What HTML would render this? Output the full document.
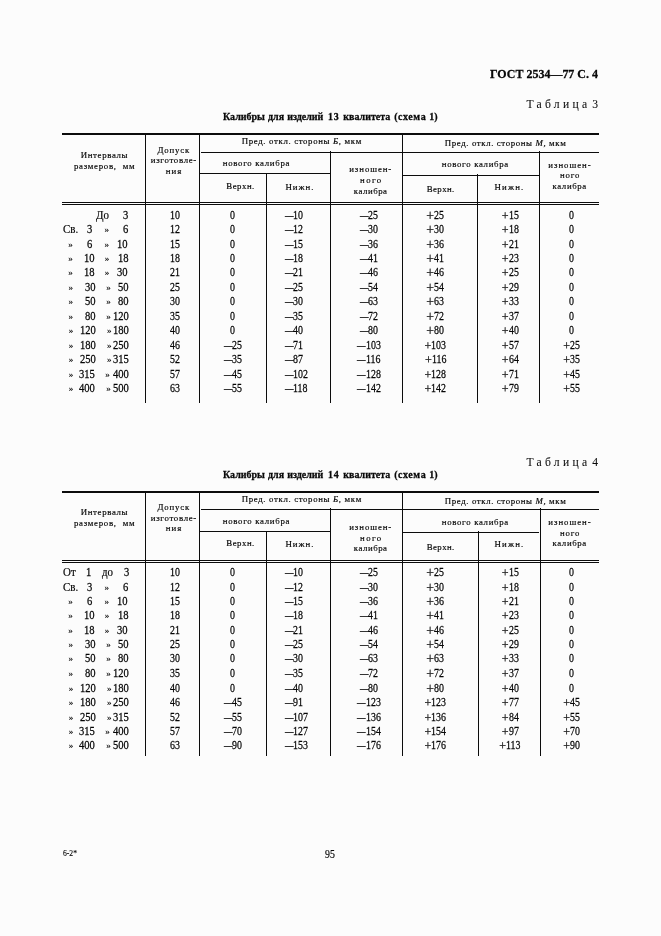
<!DOCTYPE html>
<html lang="ru">
<head>
<meta charset="utf-8">
<title>ГОСТ 2534—77 С. 4</title>
<style>
html,body{margin:0;padding:0;background:#fcfcfc;}
body{width:661px;height:936px;overflow:hidden;position:relative;
 font-family:"Liberation Serif","DejaVu Serif",serif;color:#0a0a0a;}
.page{position:absolute;left:0;top:0;width:661px;height:936px;overflow:hidden;}
/* text runs: absolutely placed on the measured baselines of the scan */
.t{position:absolute;white-space:pre;line-height:20px;height:20px;transform-origin:0 50%;-webkit-text-stroke:0.017em #000;}
.h{-webkit-text-stroke:0.16px #000;color:#000;}
.q{-webkit-text-stroke:0.14px #000;color:#000;}
.s{-webkit-text-stroke:0.06px #000;}
.b{font-weight:bold;-webkit-text-stroke:0.28px #000;}
/* table rules */
.r{position:absolute;background:#0c0c0c;}
/* signs and condensed figures */
.d{display:inline-block;transform:scaleX(0.74);transform-origin:0 50%;margin-right:-0.26em;}
.n{display:inline-block;transform:scale(.86,1.03);transform-origin:0 14px;}
.n1{margin-right:-.07em}.n2{margin-right:-.14em}.n3{margin-right:-.21em}
.m{display:inline-block;transform:scale(.92,1.03);transform-origin:0 14px;}
.m1{margin-right:-.04em}.m2{margin-right:-.08em}.m3{margin-right:-.12em}
.n,.m{-webkit-text-stroke:0.25px #000;}
.p{display:inline-block;font-size:1.2em;line-height:0;position:relative;top:1px;}
.p2{display:inline-block;font-size:1.05em;line-height:0;position:relative;top:1px;}
/* title spacing tweaks */
.u{word-spacing:2.4px;}
.u2{word-spacing:1.4px;}
.w{letter-spacing:.8px;}
.v{letter-spacing:.65px;}
i{font-style:italic;}
</style>
</head>
<body>
<div class="page">
<div class="r" style="left:62px;top:133px;width:537px;height:2px"></div>
<div class="r" style="left:62px;top:202px;width:537px;height:1px"></div>
<div class="r" style="left:62px;top:204px;width:537px;height:1px"></div>
<div class="r" style="left:201px;top:152px;width:398px;height:1px"></div>
<div class="r" style="left:199px;top:173px;width:132px;height:1px"></div>
<div class="r" style="left:402px;top:175px;width:137px;height:1px"></div>
<div class="r" style="left:145px;top:134px;width:1px;height:269px"></div>
<div class="r" style="left:199px;top:134px;width:1px;height:269px"></div>
<div class="r" style="left:266px;top:173px;width:1px;height:230px"></div>
<div class="r" style="left:330px;top:151px;width:1px;height:252px"></div>
<div class="r" style="left:402px;top:134px;width:1px;height:269px"></div>
<div class="r" style="left:477px;top:174px;width:1px;height:229px"></div>
<div class="r" style="left:539px;top:151px;width:1px;height:252px"></div>
<div class="r" style="left:62px;top:491px;width:537px;height:2px"></div>
<div class="r" style="left:62px;top:560px;width:537px;height:1px"></div>
<div class="r" style="left:62px;top:562px;width:537px;height:1px"></div>
<div class="r" style="left:201px;top:509px;width:398px;height:1px"></div>
<div class="r" style="left:199px;top:531px;width:132px;height:1px"></div>
<div class="r" style="left:402px;top:532px;width:137px;height:1px"></div>
<div class="r" style="left:145px;top:492px;width:1px;height:264px"></div>
<div class="r" style="left:199px;top:492px;width:1px;height:264px"></div>
<div class="r" style="left:266px;top:531px;width:1px;height:225px"></div>
<div class="r" style="left:330px;top:508px;width:1px;height:248px"></div>
<div class="r" style="left:402px;top:492px;width:1px;height:264px"></div>
<div class="r" style="left:478px;top:531px;width:1px;height:225px"></div>
<div class="r" style="left:540px;top:508px;width:1px;height:248px"></div>
<span class="t b" style="left:490.00px;top:64.00px;font-size:13.00px;transform:scaleX(0.9217);">ГОСТ 2534—77 С. 4</span>
<span class="t s" style="left:526.40px;top:95.00px;font-size:11.60px;word-spacing:-4.4px;letter-spacing:3.302px;">Таблица 3</span>
<span class="t b" style="left:223.00px;top:105.50px;font-size:10.80px;word-spacing:0.65px;transform:scaleX(0.9250);">Калибры для изделий<span class="u"> </span><span class="w">13 </span>квалитета<span class="u2"> </span><span class="v">(схема</span> 1)</span>
<span class="t h" style="left:80.75px;top:145.00px;font-size:8.80px;letter-spacing:0.652px;">Интервалы</span>
<span class="t h" style="left:74.00px;top:156.00px;font-size:8.80px;letter-spacing:0.724px;">размеров,  мм</span>
<span class="t h" style="left:157.50px;top:140.00px;font-size:8.80px;letter-spacing:0.812px;">Допуск</span>
<span class="t h" style="left:150.75px;top:150.00px;font-size:8.80px;letter-spacing:0.694px;">изготовле-</span>
<span class="t h" style="left:165.75px;top:161.00px;font-size:8.80px;letter-spacing:1.016px;">ния</span>
<span class="t h" style="left:241.75px;top:131.00px;font-size:8.80px;letter-spacing:0.649px;">Пред. откл. стороны <i>Б</i>, мкм</span>
<span class="t h" style="left:222.80px;top:153.00px;font-size:8.80px;letter-spacing:0.693px;">нового калибра</span>
<span class="t h" style="left:226.30px;top:176.00px;font-size:8.80px;letter-spacing:0.503px;">Верхн.</span>
<span class="t h" style="left:285.50px;top:177.00px;font-size:8.80px;letter-spacing:0.988px;">Нижн.</span>
<span class="t h" style="left:349.25px;top:159.00px;font-size:8.80px;letter-spacing:0.913px;">изношен-</span>
<span class="t h" style="left:360.00px;top:170.00px;font-size:8.80px;letter-spacing:1.448px;">ного</span>
<span class="t h" style="left:353.75px;top:181.00px;font-size:8.80px;letter-spacing:0.542px;">калибра</span>
<span class="t h" style="left:444.75px;top:133.00px;font-size:8.80px;letter-spacing:0.624px;">Пред. откл. стороны <i>М</i>, мкм</span>
<span class="t h" style="left:441.75px;top:154.00px;font-size:8.80px;letter-spacing:0.685px;">нового калибра</span>
<span class="t h" style="left:426.75px;top:179.00px;font-size:8.80px;letter-spacing:0.403px;">Верхн.</span>
<span class="t h" style="left:494.50px;top:177.00px;font-size:8.80px;letter-spacing:1.176px;">Нижн.</span>
<span class="t h" style="left:548.25px;top:155.00px;font-size:8.80px;letter-spacing:0.984px;">изношен-</span>
<span class="t h" style="left:560.00px;top:165.00px;font-size:8.80px;letter-spacing:0.865px;">ного</span>
<span class="t h" style="left:552.50px;top:176.00px;font-size:8.80px;letter-spacing:0.625px;">калибра</span>
<span class="t" style="left:96.25px;top:205.00px;font-size:11.50px;transform:scaleX(0.9500);">До</span>
<span class="t" style="left:122.90px;top:205.00px;font-size:11.50px;"><span class="m m1">3</span></span>
<span class="t" style="left:170.05px;top:205.00px;font-size:11.50px;"><span class="n n2">10</span></span>
<span class="t" style="left:230.22px;top:205.00px;font-size:11.50px;"><span class="n n1">0</span></span>
<span class="t" style="left:284.70px;top:205.00px;font-size:11.50px;"><span class="d">—</span><span class="n n2">10</span></span>
<span class="t" style="left:359.79px;top:205.00px;font-size:11.50px;"><span class="d">—</span><span class="n n2">25</span></span>
<span class="t" style="left:426.33px;top:205.00px;font-size:11.50px;"><span class="p">+</span><span class="n n2">25</span></span>
<span class="t" style="left:501.70px;top:205.00px;font-size:11.50px;"><span class="p2">+</span><span class="n n2">15</span></span>
<span class="t" style="left:569.12px;top:205.00px;font-size:11.50px;"><span class="n n1">0</span></span>
<span class="t" style="left:63.00px;top:219.00px;font-size:11.50px;transform:scaleX(0.9500);">Св.</span>
<span class="t" style="left:87.20px;top:219.00px;font-size:11.50px;"><span class="m m1">3</span></span>
<span class="t q" style="left:104.50px;top:219.00px;font-size:9.20px;">»</span>
<span class="t" style="left:123.10px;top:219.00px;font-size:11.50px;"><span class="m m1">6</span></span>
<span class="t" style="left:170.05px;top:219.00px;font-size:11.50px;"><span class="n n2">12</span></span>
<span class="t" style="left:230.22px;top:219.00px;font-size:11.50px;"><span class="n n1">0</span></span>
<span class="t" style="left:284.70px;top:219.00px;font-size:11.50px;"><span class="d">—</span><span class="n n2">12</span></span>
<span class="t" style="left:359.79px;top:219.00px;font-size:11.50px;"><span class="d">—</span><span class="n n2">30</span></span>
<span class="t" style="left:426.33px;top:219.00px;font-size:11.50px;"><span class="p">+</span><span class="n n2">30</span></span>
<span class="t" style="left:501.70px;top:219.00px;font-size:11.50px;"><span class="p2">+</span><span class="n n2">18</span></span>
<span class="t" style="left:569.12px;top:219.00px;font-size:11.50px;"><span class="n n1">0</span></span>
<span class="t q" style="left:68.20px;top:234.00px;font-size:9.20px;">»</span>
<span class="t" style="left:86.90px;top:234.00px;font-size:11.50px;"><span class="m m1">6</span></span>
<span class="t q" style="left:104.50px;top:234.00px;font-size:9.20px;">»</span>
<span class="t" style="left:117.21px;top:234.00px;font-size:11.50px;"><span class="m m2">10</span></span>
<span class="t" style="left:170.05px;top:234.00px;font-size:11.50px;"><span class="n n2">15</span></span>
<span class="t" style="left:230.22px;top:234.00px;font-size:11.50px;"><span class="n n1">0</span></span>
<span class="t" style="left:284.70px;top:234.00px;font-size:11.50px;"><span class="d">—</span><span class="n n2">15</span></span>
<span class="t" style="left:359.79px;top:234.00px;font-size:11.50px;"><span class="d">—</span><span class="n n2">36</span></span>
<span class="t" style="left:426.33px;top:234.00px;font-size:11.50px;"><span class="p">+</span><span class="n n2">36</span></span>
<span class="t" style="left:501.70px;top:234.00px;font-size:11.50px;"><span class="p2">+</span><span class="n n2">21</span></span>
<span class="t" style="left:569.12px;top:234.00px;font-size:11.50px;"><span class="n n1">0</span></span>
<span class="t q" style="left:68.20px;top:248.00px;font-size:9.20px;">»</span>
<span class="t" style="left:83.61px;top:248.00px;font-size:11.50px;"><span class="m m2">10</span></span>
<span class="t q" style="left:104.80px;top:248.00px;font-size:9.20px;">»</span>
<span class="t" style="left:117.91px;top:248.00px;font-size:11.50px;"><span class="m m2">18</span></span>
<span class="t" style="left:170.05px;top:248.00px;font-size:11.50px;"><span class="n n2">18</span></span>
<span class="t" style="left:230.22px;top:248.00px;font-size:11.50px;"><span class="n n1">0</span></span>
<span class="t" style="left:284.70px;top:248.00px;font-size:11.50px;"><span class="d">—</span><span class="n n2">18</span></span>
<span class="t" style="left:359.79px;top:248.00px;font-size:11.50px;"><span class="d">—</span><span class="n n2">41</span></span>
<span class="t" style="left:426.33px;top:248.00px;font-size:11.50px;"><span class="p">+</span><span class="n n2">41</span></span>
<span class="t" style="left:501.70px;top:248.00px;font-size:11.50px;"><span class="p2">+</span><span class="n n2">23</span></span>
<span class="t" style="left:569.12px;top:248.00px;font-size:11.50px;"><span class="n n1">0</span></span>
<span class="t q" style="left:68.20px;top:262.00px;font-size:9.20px;">»</span>
<span class="t" style="left:83.61px;top:262.00px;font-size:11.50px;"><span class="m m2">18</span></span>
<span class="t q" style="left:104.80px;top:262.00px;font-size:9.20px;">»</span>
<span class="t" style="left:117.41px;top:262.00px;font-size:11.50px;"><span class="m m2">30</span></span>
<span class="t" style="left:170.05px;top:262.00px;font-size:11.50px;"><span class="n n2">21</span></span>
<span class="t" style="left:230.22px;top:262.00px;font-size:11.50px;"><span class="n n1">0</span></span>
<span class="t" style="left:284.70px;top:262.00px;font-size:11.50px;"><span class="d">—</span><span class="n n2">21</span></span>
<span class="t" style="left:359.79px;top:262.00px;font-size:11.50px;"><span class="d">—</span><span class="n n2">46</span></span>
<span class="t" style="left:426.33px;top:262.00px;font-size:11.50px;"><span class="p">+</span><span class="n n2">46</span></span>
<span class="t" style="left:501.70px;top:262.00px;font-size:11.50px;"><span class="p2">+</span><span class="n n2">25</span></span>
<span class="t" style="left:569.12px;top:262.00px;font-size:11.50px;"><span class="n n1">0</span></span>
<span class="t q" style="left:68.50px;top:277.00px;font-size:9.20px;">»</span>
<span class="t" style="left:84.61px;top:277.00px;font-size:11.50px;"><span class="m m2">30</span></span>
<span class="t q" style="left:106.20px;top:277.00px;font-size:9.20px;">»</span>
<span class="t" style="left:117.91px;top:277.00px;font-size:11.50px;"><span class="m m2">50</span></span>
<span class="t" style="left:170.05px;top:277.00px;font-size:11.50px;"><span class="n n2">25</span></span>
<span class="t" style="left:230.22px;top:277.00px;font-size:11.50px;"><span class="n n1">0</span></span>
<span class="t" style="left:284.70px;top:277.00px;font-size:11.50px;"><span class="d">—</span><span class="n n2">25</span></span>
<span class="t" style="left:359.79px;top:277.00px;font-size:11.50px;"><span class="d">—</span><span class="n n2">54</span></span>
<span class="t" style="left:426.33px;top:277.00px;font-size:11.50px;"><span class="p">+</span><span class="n n2">54</span></span>
<span class="t" style="left:501.70px;top:277.00px;font-size:11.50px;"><span class="p2">+</span><span class="n n2">29</span></span>
<span class="t" style="left:569.12px;top:277.00px;font-size:11.50px;"><span class="n n1">0</span></span>
<span class="t q" style="left:68.50px;top:291.00px;font-size:9.20px;">»</span>
<span class="t" style="left:84.81px;top:291.00px;font-size:11.50px;"><span class="m m2">50</span></span>
<span class="t q" style="left:106.20px;top:291.00px;font-size:9.20px;">»</span>
<span class="t" style="left:117.91px;top:291.00px;font-size:11.50px;"><span class="m m2">80</span></span>
<span class="t" style="left:170.05px;top:291.00px;font-size:11.50px;"><span class="n n2">30</span></span>
<span class="t" style="left:230.22px;top:291.00px;font-size:11.50px;"><span class="n n1">0</span></span>
<span class="t" style="left:284.70px;top:291.00px;font-size:11.50px;"><span class="d">—</span><span class="n n2">30</span></span>
<span class="t" style="left:359.79px;top:291.00px;font-size:11.50px;"><span class="d">—</span><span class="n n2">63</span></span>
<span class="t" style="left:426.33px;top:291.00px;font-size:11.50px;"><span class="p">+</span><span class="n n2">63</span></span>
<span class="t" style="left:501.70px;top:291.00px;font-size:11.50px;"><span class="p2">+</span><span class="n n2">33</span></span>
<span class="t" style="left:569.12px;top:291.00px;font-size:11.50px;"><span class="n n1">0</span></span>
<span class="t q" style="left:68.50px;top:306.00px;font-size:9.20px;">»</span>
<span class="t" style="left:84.81px;top:306.00px;font-size:11.50px;"><span class="m m2">80</span></span>
<span class="t q" style="left:106.20px;top:306.00px;font-size:9.20px;">»</span>
<span class="t" style="left:112.62px;top:306.00px;font-size:11.50px;"><span class="m m3">120</span></span>
<span class="t" style="left:170.05px;top:306.00px;font-size:11.50px;"><span class="n n2">35</span></span>
<span class="t" style="left:230.22px;top:306.00px;font-size:11.50px;"><span class="n n1">0</span></span>
<span class="t" style="left:284.70px;top:306.00px;font-size:11.50px;"><span class="d">—</span><span class="n n2">35</span></span>
<span class="t" style="left:359.79px;top:306.00px;font-size:11.50px;"><span class="d">—</span><span class="n n2">72</span></span>
<span class="t" style="left:426.33px;top:306.00px;font-size:11.50px;"><span class="p">+</span><span class="n n2">72</span></span>
<span class="t" style="left:501.70px;top:306.00px;font-size:11.50px;"><span class="p2">+</span><span class="n n2">37</span></span>
<span class="t" style="left:569.12px;top:306.00px;font-size:11.50px;"><span class="n n1">0</span></span>
<span class="t q" style="left:68.70px;top:320.00px;font-size:9.20px;">»</span>
<span class="t" style="left:79.83px;top:320.00px;font-size:11.50px;"><span class="m m3">120</span></span>
<span class="t q" style="left:107.00px;top:320.00px;font-size:9.20px;">»</span>
<span class="t" style="left:112.62px;top:320.00px;font-size:11.50px;"><span class="m m3">180</span></span>
<span class="t" style="left:170.05px;top:320.00px;font-size:11.50px;"><span class="n n2">40</span></span>
<span class="t" style="left:230.22px;top:320.00px;font-size:11.50px;"><span class="n n1">0</span></span>
<span class="t" style="left:284.70px;top:320.00px;font-size:11.50px;"><span class="d">—</span><span class="n n2">40</span></span>
<span class="t" style="left:359.79px;top:320.00px;font-size:11.50px;"><span class="d">—</span><span class="n n2">80</span></span>
<span class="t" style="left:426.33px;top:320.00px;font-size:11.50px;"><span class="p">+</span><span class="n n2">80</span></span>
<span class="t" style="left:501.70px;top:320.00px;font-size:11.50px;"><span class="p2">+</span><span class="n n2">40</span></span>
<span class="t" style="left:569.12px;top:320.00px;font-size:11.50px;"><span class="n n1">0</span></span>
<span class="t q" style="left:68.70px;top:335.00px;font-size:9.20px;">»</span>
<span class="t" style="left:79.83px;top:335.00px;font-size:11.50px;"><span class="m m3">180</span></span>
<span class="t q" style="left:107.00px;top:335.00px;font-size:9.20px;">»</span>
<span class="t" style="left:113.12px;top:335.00px;font-size:11.50px;"><span class="m m3">250</span></span>
<span class="t" style="left:170.05px;top:335.00px;font-size:11.50px;"><span class="n n2">46</span></span>
<span class="t" style="left:223.50px;top:335.00px;font-size:11.50px;"><span class="d">—</span><span class="n n2">25</span></span>
<span class="t" style="left:284.70px;top:335.00px;font-size:11.50px;"><span class="d">—</span><span class="n n2">71</span></span>
<span class="t" style="left:357.04px;top:335.00px;font-size:11.50px;"><span class="d">—</span><span class="n n3">103</span></span>
<span class="t" style="left:424.54px;top:335.00px;font-size:11.50px;"><span class="p2">+</span><span class="n n3">103</span></span>
<span class="t" style="left:501.70px;top:335.00px;font-size:11.50px;"><span class="p2">+</span><span class="n n2">57</span></span>
<span class="t" style="left:563.25px;top:335.00px;font-size:11.50px;"><span class="p2">+</span><span class="n n2">25</span></span>
<span class="t q" style="left:68.70px;top:349.00px;font-size:9.20px;">»</span>
<span class="t" style="left:79.83px;top:349.00px;font-size:11.50px;"><span class="m m3">250</span></span>
<span class="t q" style="left:107.00px;top:349.00px;font-size:9.20px;">»</span>
<span class="t" style="left:113.12px;top:349.00px;font-size:11.50px;"><span class="m m3">315</span></span>
<span class="t" style="left:170.05px;top:349.00px;font-size:11.50px;"><span class="n n2">52</span></span>
<span class="t" style="left:223.50px;top:349.00px;font-size:11.50px;"><span class="d">—</span><span class="n n2">35</span></span>
<span class="t" style="left:284.70px;top:349.00px;font-size:11.50px;"><span class="d">—</span><span class="n n2">87</span></span>
<span class="t" style="left:357.46px;top:349.00px;font-size:11.50px;"><span class="d">—</span><span class="n n3">116</span></span>
<span class="t" style="left:424.97px;top:349.00px;font-size:11.50px;"><span class="p2">+</span><span class="n n3">116</span></span>
<span class="t" style="left:501.70px;top:349.00px;font-size:11.50px;"><span class="p2">+</span><span class="n n2">64</span></span>
<span class="t" style="left:563.25px;top:349.00px;font-size:11.50px;"><span class="p2">+</span><span class="n n2">35</span></span>
<span class="t q" style="left:68.70px;top:364.00px;font-size:9.20px;">»</span>
<span class="t" style="left:78.92px;top:364.00px;font-size:11.50px;"><span class="m m3">315</span></span>
<span class="t q" style="left:105.20px;top:364.00px;font-size:9.20px;">»</span>
<span class="t" style="left:112.53px;top:364.00px;font-size:11.50px;"><span class="m m3">400</span></span>
<span class="t" style="left:170.05px;top:364.00px;font-size:11.50px;"><span class="n n2">57</span></span>
<span class="t" style="left:223.50px;top:364.00px;font-size:11.50px;"><span class="d">—</span><span class="n n2">45</span></span>
<span class="t" style="left:284.70px;top:364.00px;font-size:11.50px;"><span class="d">—</span><span class="n n3">102</span></span>
<span class="t" style="left:357.04px;top:364.00px;font-size:11.50px;"><span class="d">—</span><span class="n n3">128</span></span>
<span class="t" style="left:424.54px;top:364.00px;font-size:11.50px;"><span class="p2">+</span><span class="n n3">128</span></span>
<span class="t" style="left:501.70px;top:364.00px;font-size:11.50px;"><span class="p2">+</span><span class="n n2">71</span></span>
<span class="t" style="left:563.25px;top:364.00px;font-size:11.50px;"><span class="p2">+</span><span class="n n2">45</span></span>
<span class="t q" style="left:68.70px;top:378.00px;font-size:9.20px;">»</span>
<span class="t" style="left:79.33px;top:378.00px;font-size:11.50px;"><span class="m m3">400</span></span>
<span class="t q" style="left:106.20px;top:378.00px;font-size:9.20px;">»</span>
<span class="t" style="left:113.12px;top:378.00px;font-size:11.50px;"><span class="m m3">500</span></span>
<span class="t" style="left:170.05px;top:378.00px;font-size:11.50px;"><span class="n n2">63</span></span>
<span class="t" style="left:223.50px;top:378.00px;font-size:11.50px;"><span class="d">—</span><span class="n n2">55</span></span>
<span class="t" style="left:284.70px;top:378.00px;font-size:11.50px;"><span class="d">—</span><span class="n n3">118</span></span>
<span class="t" style="left:357.04px;top:378.00px;font-size:11.50px;"><span class="d">—</span><span class="n n3">142</span></span>
<span class="t" style="left:424.54px;top:378.00px;font-size:11.50px;"><span class="p2">+</span><span class="n n3">142</span></span>
<span class="t" style="left:501.70px;top:378.00px;font-size:11.50px;"><span class="p2">+</span><span class="n n2">79</span></span>
<span class="t" style="left:563.25px;top:378.00px;font-size:11.50px;"><span class="p2">+</span><span class="n n2">55</span></span>
<span class="t s" style="left:526.40px;top:453.00px;font-size:11.60px;word-spacing:-4.4px;letter-spacing:3.302px;">Таблица 4</span>
<span class="t b" style="left:223.00px;top:464.00px;font-size:10.80px;word-spacing:0.65px;transform:scaleX(0.9250);">Калибры для изделий<span class="u"> </span><span class="w">14 </span>квалитета<span class="u2"> </span><span class="v">(схема</span> 1)</span>
<span class="t h" style="left:80.75px;top:502.00px;font-size:8.80px;letter-spacing:0.652px;">Интервалы</span>
<span class="t h" style="left:74.00px;top:513.00px;font-size:8.80px;letter-spacing:0.724px;">размеров,  мм</span>
<span class="t h" style="left:157.50px;top:497.00px;font-size:8.80px;letter-spacing:0.812px;">Допуск</span>
<span class="t h" style="left:150.75px;top:508.00px;font-size:8.80px;letter-spacing:0.694px;">изготовле-</span>
<span class="t h" style="left:165.75px;top:518.00px;font-size:8.80px;letter-spacing:1.016px;">ния</span>
<span class="t h" style="left:241.75px;top:489.00px;font-size:8.80px;letter-spacing:0.649px;">Пред. откл. стороны <i>Б</i>, мкм</span>
<span class="t h" style="left:222.80px;top:511.00px;font-size:8.80px;letter-spacing:0.693px;">нового калибра</span>
<span class="t h" style="left:226.30px;top:533.00px;font-size:8.80px;letter-spacing:0.503px;">Верхн.</span>
<span class="t h" style="left:285.50px;top:534.00px;font-size:8.80px;letter-spacing:0.988px;">Нижн.</span>
<span class="t h" style="left:349.25px;top:517.00px;font-size:8.80px;letter-spacing:0.913px;">изношен-</span>
<span class="t h" style="left:360.00px;top:528.00px;font-size:8.80px;letter-spacing:1.448px;">ного</span>
<span class="t h" style="left:353.75px;top:538.00px;font-size:8.80px;letter-spacing:0.542px;">калибра</span>
<span class="t h" style="left:444.75px;top:491.00px;font-size:8.80px;letter-spacing:0.624px;">Пред. откл. стороны <i>М</i>, мкм</span>
<span class="t h" style="left:441.75px;top:512.00px;font-size:8.80px;letter-spacing:0.685px;">нового калибра</span>
<span class="t h" style="left:426.75px;top:537.00px;font-size:8.80px;letter-spacing:0.403px;">Верхн.</span>
<span class="t h" style="left:494.50px;top:534.00px;font-size:8.80px;letter-spacing:1.176px;">Нижн.</span>
<span class="t h" style="left:548.25px;top:512.00px;font-size:8.80px;letter-spacing:0.984px;">изношен-</span>
<span class="t h" style="left:560.00px;top:523.00px;font-size:8.80px;letter-spacing:0.865px;">ного</span>
<span class="t h" style="left:552.50px;top:533.00px;font-size:8.80px;letter-spacing:0.625px;">калибра</span>
<span class="t" style="left:63.00px;top:562.00px;font-size:11.50px;transform:scaleX(0.9500);">От</span>
<span class="t" style="left:86.40px;top:562.00px;font-size:11.50px;"><span class="m m1">1</span></span>
<span class="t" style="left:102.00px;top:562.00px;font-size:11.50px;transform:scaleX(0.9500);">до</span>
<span class="t" style="left:124.00px;top:562.00px;font-size:11.50px;"><span class="m m1">3</span></span>
<span class="t" style="left:170.05px;top:562.00px;font-size:11.50px;"><span class="n n2">10</span></span>
<span class="t" style="left:230.22px;top:562.00px;font-size:11.50px;"><span class="n n1">0</span></span>
<span class="t" style="left:284.70px;top:562.00px;font-size:11.50px;"><span class="d">—</span><span class="n n2">10</span></span>
<span class="t" style="left:359.79px;top:562.00px;font-size:11.50px;"><span class="d">—</span><span class="n n2">25</span></span>
<span class="t" style="left:426.33px;top:562.00px;font-size:11.50px;"><span class="p">+</span><span class="n n2">25</span></span>
<span class="t" style="left:501.70px;top:562.00px;font-size:11.50px;"><span class="p2">+</span><span class="n n2">15</span></span>
<span class="t" style="left:569.12px;top:562.00px;font-size:11.50px;"><span class="n n1">0</span></span>
<span class="t" style="left:63.00px;top:577.00px;font-size:11.50px;transform:scaleX(0.9500);">Св.</span>
<span class="t" style="left:87.20px;top:577.00px;font-size:11.50px;"><span class="m m1">3</span></span>
<span class="t q" style="left:104.50px;top:577.00px;font-size:9.20px;">»</span>
<span class="t" style="left:123.10px;top:577.00px;font-size:11.50px;"><span class="m m1">6</span></span>
<span class="t" style="left:170.05px;top:577.00px;font-size:11.50px;"><span class="n n2">12</span></span>
<span class="t" style="left:230.22px;top:577.00px;font-size:11.50px;"><span class="n n1">0</span></span>
<span class="t" style="left:284.70px;top:577.00px;font-size:11.50px;"><span class="d">—</span><span class="n n2">12</span></span>
<span class="t" style="left:359.79px;top:577.00px;font-size:11.50px;"><span class="d">—</span><span class="n n2">30</span></span>
<span class="t" style="left:426.33px;top:577.00px;font-size:11.50px;"><span class="p">+</span><span class="n n2">30</span></span>
<span class="t" style="left:501.70px;top:577.00px;font-size:11.50px;"><span class="p2">+</span><span class="n n2">18</span></span>
<span class="t" style="left:569.12px;top:577.00px;font-size:11.50px;"><span class="n n1">0</span></span>
<span class="t q" style="left:68.20px;top:591.00px;font-size:9.20px;">»</span>
<span class="t" style="left:86.90px;top:591.00px;font-size:11.50px;"><span class="m m1">6</span></span>
<span class="t q" style="left:104.50px;top:591.00px;font-size:9.20px;">»</span>
<span class="t" style="left:117.21px;top:591.00px;font-size:11.50px;"><span class="m m2">10</span></span>
<span class="t" style="left:170.05px;top:591.00px;font-size:11.50px;"><span class="n n2">15</span></span>
<span class="t" style="left:230.22px;top:591.00px;font-size:11.50px;"><span class="n n1">0</span></span>
<span class="t" style="left:284.70px;top:591.00px;font-size:11.50px;"><span class="d">—</span><span class="n n2">15</span></span>
<span class="t" style="left:359.79px;top:591.00px;font-size:11.50px;"><span class="d">—</span><span class="n n2">36</span></span>
<span class="t" style="left:426.33px;top:591.00px;font-size:11.50px;"><span class="p">+</span><span class="n n2">36</span></span>
<span class="t" style="left:501.70px;top:591.00px;font-size:11.50px;"><span class="p2">+</span><span class="n n2">21</span></span>
<span class="t" style="left:569.12px;top:591.00px;font-size:11.50px;"><span class="n n1">0</span></span>
<span class="t q" style="left:68.20px;top:605.00px;font-size:9.20px;">»</span>
<span class="t" style="left:83.61px;top:605.00px;font-size:11.50px;"><span class="m m2">10</span></span>
<span class="t q" style="left:104.80px;top:605.00px;font-size:9.20px;">»</span>
<span class="t" style="left:117.91px;top:605.00px;font-size:11.50px;"><span class="m m2">18</span></span>
<span class="t" style="left:170.05px;top:605.00px;font-size:11.50px;"><span class="n n2">18</span></span>
<span class="t" style="left:230.22px;top:605.00px;font-size:11.50px;"><span class="n n1">0</span></span>
<span class="t" style="left:284.70px;top:605.00px;font-size:11.50px;"><span class="d">—</span><span class="n n2">18</span></span>
<span class="t" style="left:359.79px;top:605.00px;font-size:11.50px;"><span class="d">—</span><span class="n n2">41</span></span>
<span class="t" style="left:426.33px;top:605.00px;font-size:11.50px;"><span class="p">+</span><span class="n n2">41</span></span>
<span class="t" style="left:501.70px;top:605.00px;font-size:11.50px;"><span class="p2">+</span><span class="n n2">23</span></span>
<span class="t" style="left:569.12px;top:605.00px;font-size:11.50px;"><span class="n n1">0</span></span>
<span class="t q" style="left:68.20px;top:620.00px;font-size:9.20px;">»</span>
<span class="t" style="left:83.61px;top:620.00px;font-size:11.50px;"><span class="m m2">18</span></span>
<span class="t q" style="left:104.80px;top:620.00px;font-size:9.20px;">»</span>
<span class="t" style="left:117.41px;top:620.00px;font-size:11.50px;"><span class="m m2">30</span></span>
<span class="t" style="left:170.05px;top:620.00px;font-size:11.50px;"><span class="n n2">21</span></span>
<span class="t" style="left:230.22px;top:620.00px;font-size:11.50px;"><span class="n n1">0</span></span>
<span class="t" style="left:284.70px;top:620.00px;font-size:11.50px;"><span class="d">—</span><span class="n n2">21</span></span>
<span class="t" style="left:359.79px;top:620.00px;font-size:11.50px;"><span class="d">—</span><span class="n n2">46</span></span>
<span class="t" style="left:426.33px;top:620.00px;font-size:11.50px;"><span class="p">+</span><span class="n n2">46</span></span>
<span class="t" style="left:501.70px;top:620.00px;font-size:11.50px;"><span class="p2">+</span><span class="n n2">25</span></span>
<span class="t" style="left:569.12px;top:620.00px;font-size:11.50px;"><span class="n n1">0</span></span>
<span class="t q" style="left:68.50px;top:634.00px;font-size:9.20px;">»</span>
<span class="t" style="left:84.61px;top:634.00px;font-size:11.50px;"><span class="m m2">30</span></span>
<span class="t q" style="left:106.20px;top:634.00px;font-size:9.20px;">»</span>
<span class="t" style="left:117.91px;top:634.00px;font-size:11.50px;"><span class="m m2">50</span></span>
<span class="t" style="left:170.05px;top:634.00px;font-size:11.50px;"><span class="n n2">25</span></span>
<span class="t" style="left:230.22px;top:634.00px;font-size:11.50px;"><span class="n n1">0</span></span>
<span class="t" style="left:284.70px;top:634.00px;font-size:11.50px;"><span class="d">—</span><span class="n n2">25</span></span>
<span class="t" style="left:359.79px;top:634.00px;font-size:11.50px;"><span class="d">—</span><span class="n n2">54</span></span>
<span class="t" style="left:426.33px;top:634.00px;font-size:11.50px;"><span class="p">+</span><span class="n n2">54</span></span>
<span class="t" style="left:501.70px;top:634.00px;font-size:11.50px;"><span class="p2">+</span><span class="n n2">29</span></span>
<span class="t" style="left:569.12px;top:634.00px;font-size:11.50px;"><span class="n n1">0</span></span>
<span class="t q" style="left:68.50px;top:648.00px;font-size:9.20px;">»</span>
<span class="t" style="left:84.81px;top:648.00px;font-size:11.50px;"><span class="m m2">50</span></span>
<span class="t q" style="left:106.20px;top:648.00px;font-size:9.20px;">»</span>
<span class="t" style="left:117.91px;top:648.00px;font-size:11.50px;"><span class="m m2">80</span></span>
<span class="t" style="left:170.05px;top:648.00px;font-size:11.50px;"><span class="n n2">30</span></span>
<span class="t" style="left:230.22px;top:648.00px;font-size:11.50px;"><span class="n n1">0</span></span>
<span class="t" style="left:284.70px;top:648.00px;font-size:11.50px;"><span class="d">—</span><span class="n n2">30</span></span>
<span class="t" style="left:359.79px;top:648.00px;font-size:11.50px;"><span class="d">—</span><span class="n n2">63</span></span>
<span class="t" style="left:426.33px;top:648.00px;font-size:11.50px;"><span class="p">+</span><span class="n n2">63</span></span>
<span class="t" style="left:501.70px;top:648.00px;font-size:11.50px;"><span class="p2">+</span><span class="n n2">33</span></span>
<span class="t" style="left:569.12px;top:648.00px;font-size:11.50px;"><span class="n n1">0</span></span>
<span class="t q" style="left:68.50px;top:663.00px;font-size:9.20px;">»</span>
<span class="t" style="left:84.81px;top:663.00px;font-size:11.50px;"><span class="m m2">80</span></span>
<span class="t q" style="left:106.20px;top:663.00px;font-size:9.20px;">»</span>
<span class="t" style="left:112.62px;top:663.00px;font-size:11.50px;"><span class="m m3">120</span></span>
<span class="t" style="left:170.05px;top:663.00px;font-size:11.50px;"><span class="n n2">35</span></span>
<span class="t" style="left:230.22px;top:663.00px;font-size:11.50px;"><span class="n n1">0</span></span>
<span class="t" style="left:284.70px;top:663.00px;font-size:11.50px;"><span class="d">—</span><span class="n n2">35</span></span>
<span class="t" style="left:359.79px;top:663.00px;font-size:11.50px;"><span class="d">—</span><span class="n n2">72</span></span>
<span class="t" style="left:426.33px;top:663.00px;font-size:11.50px;"><span class="p">+</span><span class="n n2">72</span></span>
<span class="t" style="left:501.70px;top:663.00px;font-size:11.50px;"><span class="p2">+</span><span class="n n2">37</span></span>
<span class="t" style="left:569.12px;top:663.00px;font-size:11.50px;"><span class="n n1">0</span></span>
<span class="t q" style="left:68.70px;top:678.00px;font-size:9.20px;">»</span>
<span class="t" style="left:79.83px;top:678.00px;font-size:11.50px;"><span class="m m3">120</span></span>
<span class="t q" style="left:107.00px;top:678.00px;font-size:9.20px;">»</span>
<span class="t" style="left:112.62px;top:678.00px;font-size:11.50px;"><span class="m m3">180</span></span>
<span class="t" style="left:170.05px;top:678.00px;font-size:11.50px;"><span class="n n2">40</span></span>
<span class="t" style="left:230.22px;top:678.00px;font-size:11.50px;"><span class="n n1">0</span></span>
<span class="t" style="left:284.70px;top:678.00px;font-size:11.50px;"><span class="d">—</span><span class="n n2">40</span></span>
<span class="t" style="left:359.79px;top:678.00px;font-size:11.50px;"><span class="d">—</span><span class="n n2">80</span></span>
<span class="t" style="left:426.33px;top:678.00px;font-size:11.50px;"><span class="p">+</span><span class="n n2">80</span></span>
<span class="t" style="left:501.70px;top:678.00px;font-size:11.50px;"><span class="p2">+</span><span class="n n2">40</span></span>
<span class="t" style="left:569.12px;top:678.00px;font-size:11.50px;"><span class="n n1">0</span></span>
<span class="t q" style="left:68.70px;top:692.00px;font-size:9.20px;">»</span>
<span class="t" style="left:79.83px;top:692.00px;font-size:11.50px;"><span class="m m3">180</span></span>
<span class="t q" style="left:107.00px;top:692.00px;font-size:9.20px;">»</span>
<span class="t" style="left:113.12px;top:692.00px;font-size:11.50px;"><span class="m m3">250</span></span>
<span class="t" style="left:170.05px;top:692.00px;font-size:11.50px;"><span class="n n2">46</span></span>
<span class="t" style="left:223.50px;top:692.00px;font-size:11.50px;"><span class="d">—</span><span class="n n2">45</span></span>
<span class="t" style="left:284.70px;top:692.00px;font-size:11.50px;"><span class="d">—</span><span class="n n2">91</span></span>
<span class="t" style="left:357.04px;top:692.00px;font-size:11.50px;"><span class="d">—</span><span class="n n3">123</span></span>
<span class="t" style="left:424.54px;top:692.00px;font-size:11.50px;"><span class="p2">+</span><span class="n n3">123</span></span>
<span class="t" style="left:501.70px;top:692.00px;font-size:11.50px;"><span class="p2">+</span><span class="n n2">77</span></span>
<span class="t" style="left:563.25px;top:692.00px;font-size:11.50px;"><span class="p2">+</span><span class="n n2">45</span></span>
<span class="t q" style="left:68.70px;top:707.00px;font-size:9.20px;">»</span>
<span class="t" style="left:79.83px;top:707.00px;font-size:11.50px;"><span class="m m3">250</span></span>
<span class="t q" style="left:107.00px;top:707.00px;font-size:9.20px;">»</span>
<span class="t" style="left:113.12px;top:707.00px;font-size:11.50px;"><span class="m m3">315</span></span>
<span class="t" style="left:170.05px;top:707.00px;font-size:11.50px;"><span class="n n2">52</span></span>
<span class="t" style="left:223.50px;top:707.00px;font-size:11.50px;"><span class="d">—</span><span class="n n2">55</span></span>
<span class="t" style="left:284.70px;top:707.00px;font-size:11.50px;"><span class="d">—</span><span class="n n3">107</span></span>
<span class="t" style="left:357.04px;top:707.00px;font-size:11.50px;"><span class="d">—</span><span class="n n3">136</span></span>
<span class="t" style="left:424.54px;top:707.00px;font-size:11.50px;"><span class="p2">+</span><span class="n n3">136</span></span>
<span class="t" style="left:501.70px;top:707.00px;font-size:11.50px;"><span class="p2">+</span><span class="n n2">84</span></span>
<span class="t" style="left:563.25px;top:707.00px;font-size:11.50px;"><span class="p2">+</span><span class="n n2">55</span></span>
<span class="t q" style="left:68.70px;top:721.00px;font-size:9.20px;">»</span>
<span class="t" style="left:78.92px;top:721.00px;font-size:11.50px;"><span class="m m3">315</span></span>
<span class="t q" style="left:105.20px;top:721.00px;font-size:9.20px;">»</span>
<span class="t" style="left:112.53px;top:721.00px;font-size:11.50px;"><span class="m m3">400</span></span>
<span class="t" style="left:170.05px;top:721.00px;font-size:11.50px;"><span class="n n2">57</span></span>
<span class="t" style="left:223.50px;top:721.00px;font-size:11.50px;"><span class="d">—</span><span class="n n2">70</span></span>
<span class="t" style="left:284.70px;top:721.00px;font-size:11.50px;"><span class="d">—</span><span class="n n3">127</span></span>
<span class="t" style="left:357.04px;top:721.00px;font-size:11.50px;"><span class="d">—</span><span class="n n3">154</span></span>
<span class="t" style="left:424.54px;top:721.00px;font-size:11.50px;"><span class="p2">+</span><span class="n n3">154</span></span>
<span class="t" style="left:501.70px;top:721.00px;font-size:11.50px;"><span class="p2">+</span><span class="n n2">97</span></span>
<span class="t" style="left:563.25px;top:721.00px;font-size:11.50px;"><span class="p2">+</span><span class="n n2">70</span></span>
<span class="t q" style="left:68.70px;top:735.00px;font-size:9.20px;">»</span>
<span class="t" style="left:79.33px;top:735.00px;font-size:11.50px;"><span class="m m3">400</span></span>
<span class="t q" style="left:106.20px;top:735.00px;font-size:9.20px;">»</span>
<span class="t" style="left:113.12px;top:735.00px;font-size:11.50px;"><span class="m m3">500</span></span>
<span class="t" style="left:170.05px;top:735.00px;font-size:11.50px;"><span class="n n2">63</span></span>
<span class="t" style="left:223.50px;top:735.00px;font-size:11.50px;"><span class="d">—</span><span class="n n2">90</span></span>
<span class="t" style="left:284.70px;top:735.00px;font-size:11.50px;"><span class="d">—</span><span class="n n3">153</span></span>
<span class="t" style="left:357.04px;top:735.00px;font-size:11.50px;"><span class="d">—</span><span class="n n3">176</span></span>
<span class="t" style="left:424.54px;top:735.00px;font-size:11.50px;"><span class="p2">+</span><span class="n n3">176</span></span>
<span class="t" style="left:499.37px;top:735.00px;font-size:11.50px;"><span class="p2">+</span><span class="n n3">113</span></span>
<span class="t" style="left:563.25px;top:735.00px;font-size:11.50px;"><span class="p2">+</span><span class="n n2">90</span></span>
<span class="t" style="left:63.00px;top:843.50px;font-size:7.60px;transform:scaleX(1.0056);">6-2*</span>
<span class="t" style="left:325.00px;top:844.00px;font-size:13.00px;transform:scaleX(0.7538);">95</span>
</div>
</body>
</html>
